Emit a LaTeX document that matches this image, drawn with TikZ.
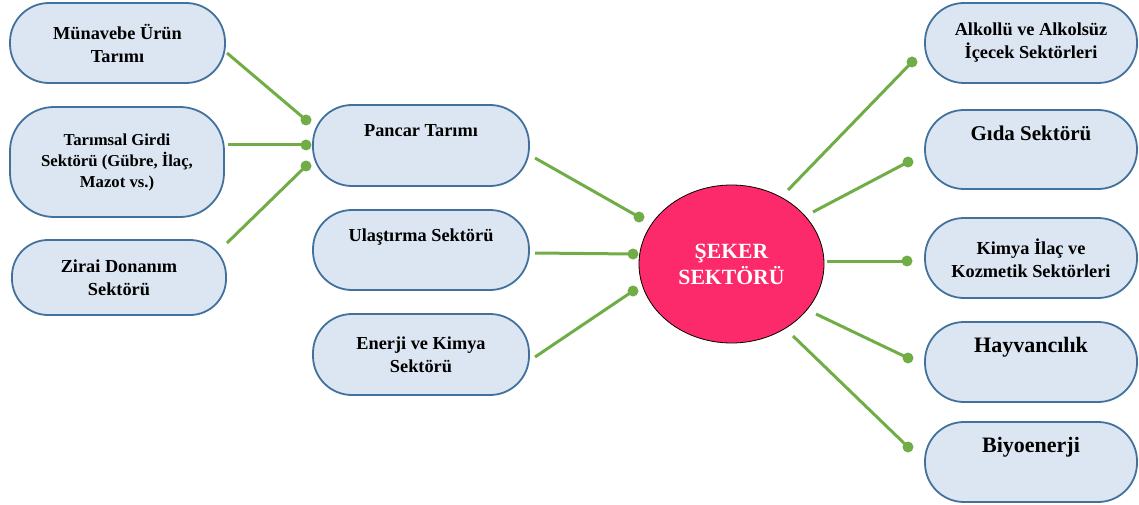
\documentclass[tikz,border=0pt]{standalone}
\usepackage{fontspec}
\setmainfont{Liberation Serif}
\usetikzlibrary{shapes.geometric}
\definecolor{boxfill}{RGB}{220,230,242}
\definecolor{boxdraw}{RGB}{65,113,156}
\definecolor{lgreen}{RGB}{112,173,71}
\definecolor{pinkred}{RGB}{252,42,106}
\tikzset{
  sbox/.style={draw=boxdraw, line width=1.8pt, fill=boxfill, rounded corners=39pt,
    minimum width=#1, inner sep=0pt, align=center,
    font=\bfseries\fontsize{18.3}{23}\selectfont},
  sbox/.default=214pt,
  bigtext/.style={font=\bfseries\fontsize{22}{26}\selectfont},
  conn/.style={draw=lgreen, line width=3pt},
  dot/.style={fill=lgreen}
}
\begin{document}
\begin{tikzpicture}[x=1pt,y=-1pt]
\useasboundingbox (0,0) rectangle (1139,505);
% left column
\node[sbox=215pt, minimum height=80pt] (B1) at (117.5,43) {Münavebe Ürün\\Tarımı};
\node[sbox=214pt, minimum height=110pt, rounded corners=44pt,
      font=\bfseries\fontsize{16.7}{21}\selectfont] (B2) at (117,162) {Tarımsal Girdi\\Sektörü (Gübre, İlaç,\\Mazot vs.)};
\node[sbox=214pt, minimum height=75pt, rounded corners=36pt] (B3) at (119,277.5) {Zirai Donanım\\Sektörü};
% middle column
\node[sbox=216pt, minimum height=81pt] (M1) at (421,145.5) {Pancar Tarımı\\\strut};
\node[sbox=216pt, minimum height=80pt] (M2) at (421,250) {Ulaştırma Sektörü\\\strut};
\node[sbox=216pt, minimum height=81pt] (M3) at (421,354.5) {Enerji ve Kimya\\Sektörü};
% center
\node[ellipse, draw=black, line width=0.8pt, fill=pinkred, minimum width=185pt, minimum height=158pt,
      inner sep=0pt, align=center, text=white, font=\bfseries\fontsize{21.7}{26}\selectfont] (E) at (731.5,264) {ŞEKER\\SEKTÖRÜ};
% right column
\node[sbox=212pt, minimum height=80pt] (R1) at (1031,43) {Alkollü ve Alkolsüz\\İçecek Sektörleri};
\node[sbox=212pt, minimum height=79pt, font=\bfseries\fontsize{21}{25}\selectfont] (R2) at (1031,149.5) {Gıda Sektörü\\\strut};
\node[sbox=212pt, minimum height=80pt] (R3) at (1031,258) {Kimya İlaç ve\\Kozmetik Sektörleri};
\node[sbox=212pt, minimum height=80pt, bigtext] (R4) at (1031,362) {Hayvancılık\\\strut};
\node[sbox=212pt, minimum height=80pt, bigtext] (R5) at (1031,462) {Biyoenerji\\\strut};
% connector end points
\coordinate (b1s) at (227,53);  \coordinate (b1d) at (306,120);
\coordinate (b2s) at (228,145); \coordinate (b2d) at (306,145);
\coordinate (b3s) at (227,243); \coordinate (b3d) at (306,166);
\coordinate (m1s) at (535,158); \coordinate (m1d) at (639,217);
\coordinate (m2s) at (535,253); \coordinate (m2d) at (633,254);
\coordinate (m3s) at (535,357); \coordinate (m3d) at (633,291);
\coordinate (r1s) at (788,190); \coordinate (r1d) at (912,62);
\coordinate (r2s) at (813,212); \coordinate (r2d) at (908,162);
\coordinate (r3s) at (827,261); \coordinate (r3d) at (907,261);
\coordinate (r4s) at (816,314); \coordinate (r4d) at (908,358);
\coordinate (r5s) at (793,336); \coordinate (r5d) at (908,447);
\foreach \a in {b1,b2,b3,m1,m2,m3,r1,r2,r3,r4,r5}{
  \draw[conn] (\a s) -- (\a d);
  \fill[dot] (\a d) circle (5.5);
}
\end{tikzpicture}
\end{document}
